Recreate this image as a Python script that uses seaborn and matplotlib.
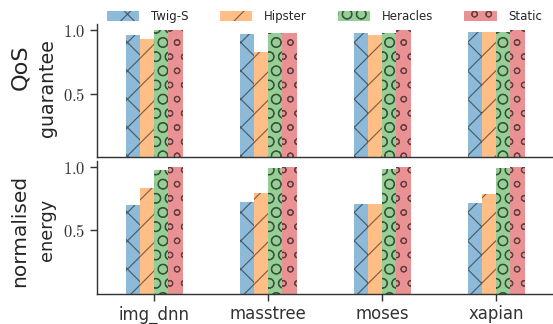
import matplotlib
matplotlib.use("Agg")
import matplotlib.pyplot as plt
import pandas as pd
import seaborn as sns
from matplotlib.patches import Patch

# Benchmarks and scheduling schemes
benchmarks = ["img_dnn", "masstree", "moses", "xapian"]
schemes = ["Twig-S", "Hipster", "Heracles", "Static"]

# QoS guarantee per scheme (one value per benchmark)
qos_twig = [0.96, 0.97, 0.98, 0.99]
qos_hipster = [0.93, 0.83, 0.96, 0.99]
qos_heracles = [1.00, 0.98, 0.98, 0.99]
qos_static = [1.00, 0.98, 1.00, 1.00]

# Normalised energy per scheme
energy_twig = [0.70, 0.725, 0.71, 0.715]
energy_hipster = [0.84, 0.795, 0.71, 0.79]
energy_heracles = [0.98, 0.995, 0.985, 0.995]
energy_static = [1.00, 1.00, 1.00, 1.00]

yticks = [0.5, 1.0]
ytick_labels = ["0.5", "1.0"]

colors = ["#1f77b4", "#ff7f0e", "#2ca02c", "#d62728"]
hatches = ["xx", "//", "OO", "oo"]


def frame(values):
    rows = []
    for scheme, vals in zip(schemes, values):
        for bench, v in zip(benchmarks, vals):
            rows.append({"benchmark": bench, "scheme": scheme, "value": v})
    return pd.DataFrame(rows)


qos_df = frame([qos_twig, qos_hipster, qos_heracles, qos_static])
energy_df = frame([energy_twig, energy_hipster, energy_heracles, energy_static])

sns.set_style("ticks")
plt.rcParams["font.family"] = ["DejaVu Sans"]
plt.rcParams["mathtext.fontset"] = "cm"
plt.rcParams["hatch.linewidth"] = 0.5
plt.rcParams["axes.edgecolor"] = "#333333"
plt.rcParams["axes.linewidth"] = 0.6
plt.rcParams["xtick.color"] = "#333333"
plt.rcParams["ytick.color"] = "#333333"

DPI = 170
fig = plt.figure(figsize=(553 / DPI, 324 / DPI), dpi=DPI)
ax_top = fig.add_axes([97 / 553, 1 - 157 / 324, 1 - 97 / 553, (157 - 24) / 324])
ax_bot = fig.add_axes([97 / 553, 1 - 293.5 / 324, 1 - 97 / 553, (293.5 - 161) / 324])

for ax, df in [(ax_top, qos_df), (ax_bot, energy_df)]:
    sns.barplot(data=df, x="benchmark", y="value", hue="scheme",
                hue_order=schemes, order=benchmarks, palette=colors,
                width=0.5, alpha=0.5, linewidth=0, edgecolor="black",
                saturation=1, legend=False, ax=ax)
    for container, h in zip(ax.containers, hatches):
        for bar in container:
            bar.set_hatch(h)
    ax.set_xlim(-0.5, 3.5)
    ax.set_ylim(0, 1.05)
    ax.set_yticks(yticks)
    ax.set_yticklabels([f"${t}$" for t in ytick_labels], fontsize=7)
    ax.set_xlabel("")
    ax.set_ylabel("")
    ax.tick_params(axis="both", length=3, width=0.6, pad=2)
    sns.despine(ax=ax)

ax_top.tick_params(axis="x", labelbottom=False, length=0)
ax_bot.set_xticks(range(len(benchmarks)))
ax_bot.set_xticklabels(benchmarks, fontsize=7)

# Two-line y labels: larger first line, smaller second line
fig.text(20 / 553, 1 - 67 / 324, "QoS", rotation=90, ha="center", va="center", fontsize=9.5)
fig.text(47 / 553, 1 - 88 / 324, "guarantee", rotation=90, ha="center", va="center", fontsize=8)
fig.text(20 / 553, 1 - 231 / 324, "normalised", rotation=90, ha="center", va="center", fontsize=8.5)
fig.text(47 / 553, 1 - 230 / 324, "energy", rotation=90, ha="center", va="center", fontsize=7.5)

handles = [Patch(facecolor=c, alpha=0.5, edgecolor="black", linewidth=0, hatch=h)
           for c, h in zip(colors, hatches)]
fig.legend(handles, schemes, loc="upper left", bbox_to_anchor=(107 / 553, 1 - 10 / 324),
           ncol=4, frameon=False, fontsize=5.0, borderpad=0, borderaxespad=0,
           handlelength=2.74, handleheight=0.87, handletextpad=1.0, columnspacing=2.63)

fig.savefig("out.png", dpi=DPI)
